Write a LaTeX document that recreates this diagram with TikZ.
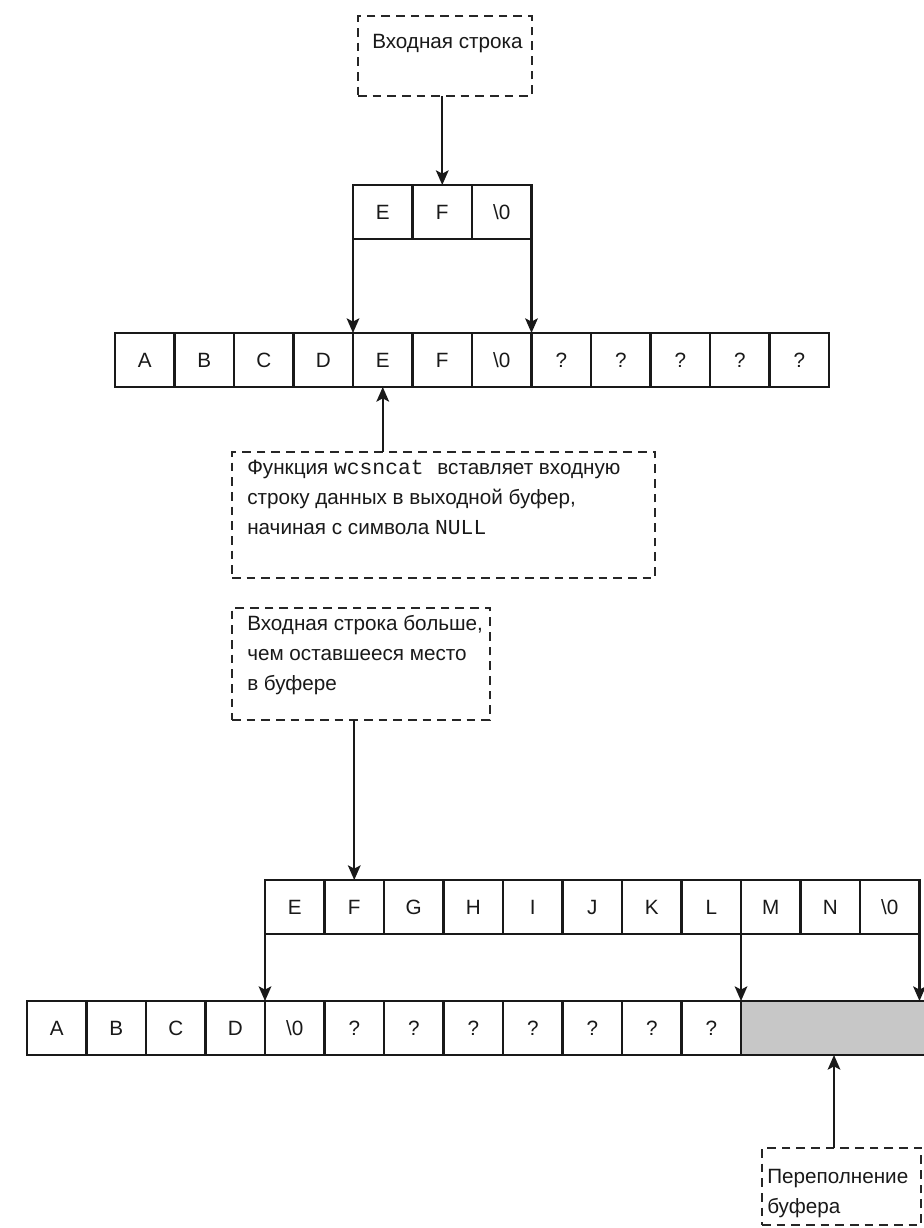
\documentclass[tikz,border=0pt]{standalone}
\usepackage{fontspec}
\setmainfont{Liberation Sans}
\setmonofont{Liberation Mono}
\usetikzlibrary{arrows.meta,calc}
\newcommand\nulchar{\textbackslash 0}
\newcommand\code[1]{{\fontsize{16}{22.5}\selectfont\texttt{#1}}}
\begin{document}
\begin{tikzpicture}[x=0.75pt,y=-0.75pt,
  cell/.style={draw=black!90, line width=1.6pt, minimum width=44.625pt,
    minimum height=40.5pt, inner sep=0pt, outer sep=0pt, text=black!90,
    font=\fontsize{15.5}{18}\selectfont},
  overflow/.style={cell, fill=black!22, minimum width=145pt},
  dbox/.style={draw=black!85, line width=1.8pt, dash pattern=on 6.5pt off 4.5pt,
    inner sep=0pt, outer sep=0pt},
  txt/.style={font=\fontsize{15.5}{22.5}\selectfont, align=left, inner sep=0pt,
    anchor=west, text=black!90},
  arr/.style={line width=1.6pt, draw=black!90,
    -{Stealth[length=11pt,width=9.5pt,inset=2.5pt]}},
]
\useasboundingbox (0,0) rectangle (924,1228);
\fill[white] (0,0) rectangle (924,1228);
\clip (0,0) rectangle (924,1228);

% source string
\node[dbox, minimum width=130.5pt, minimum height=60pt] (src) at (445,56) {};
\node[txt] (srct) at (372,44) {Входная строка};

\foreach \t [count=\i from 0] in {E,F,\nulchar}
  \node[cell] (s\i) at (353+29.75+59.5*\i,212) {\t};

% destination buffer before the call
\foreach \t [count=\i from 0] in {A,B,C,D,E,F,\nulchar,?,?,?,?,?}
  \node[cell] (a\i) at (115+29.75+59.5*\i,360) {\t};

% explanation of wcsncat
\node[dbox, minimum width=317.25pt, minimum height=94.5pt] (fn) at (443.5,515) {};
\node[txt] (fnt) at (247,497) {Функция \code{wcsncat}\hspace{6pt} вставляет входную\\
строку данных в выходной буфер,\\
начиная с символа \code{NULL}};

% too long input string
\node[dbox, minimum width=193.5pt, minimum height=84pt] (big) at (361,664) {};
\node[txt] (bigt) at (247,655) {Входная строка больше,\\
чем оставшееся место\\
в буфере};

\foreach \t [count=\i from 0] in {E,F,G,H,I,J,K,L,M,N,\nulchar}
  \node[cell] (b\i) at (265+29.75+59.5*\i,907) {\t};

% destination buffer that is overrun
\foreach \t [count=\i from 0] in {A,B,C,D,\nulchar,?,?,?,?,?,?,?}
  \node[cell] (c\i) at (27+29.75+59.5*\i,1028) {\t};
\node[overflow, anchor=west] (cg) at (c11.east) {};

% overflow label
\node[dbox, minimum width=119.25pt, minimum height=57.75pt] (ovf) at (841.5,1186.5) {};
\node[txt] (ovft) at (767,1193.5) {Переполнение\\буфера};

% connectors
\draw[arr] (src.south -| s1) -- (s1.north);
\draw[arr] (s0.south west) -- (s0.south west |- a4.north);
\draw[arr] (s2.south east) -- (s2.south east |- a6.north);
\draw[arr] (fn.north -| a4) -- (a4.south);
\draw[arr] (big.south -| b1) -- (b1.north);
\draw[arr] (b0.south west) -- (b0.south west |- c4.north);
\draw[arr] (b8.south west) -- (b8.south west |- cg.north);
\draw[arr] (b10.south east) -- (b10.south east |- cg.north);
\draw[arr] (ovf.north -| 834,0) -- (cg.south -| 834,0);
\end{tikzpicture}
\end{document}
